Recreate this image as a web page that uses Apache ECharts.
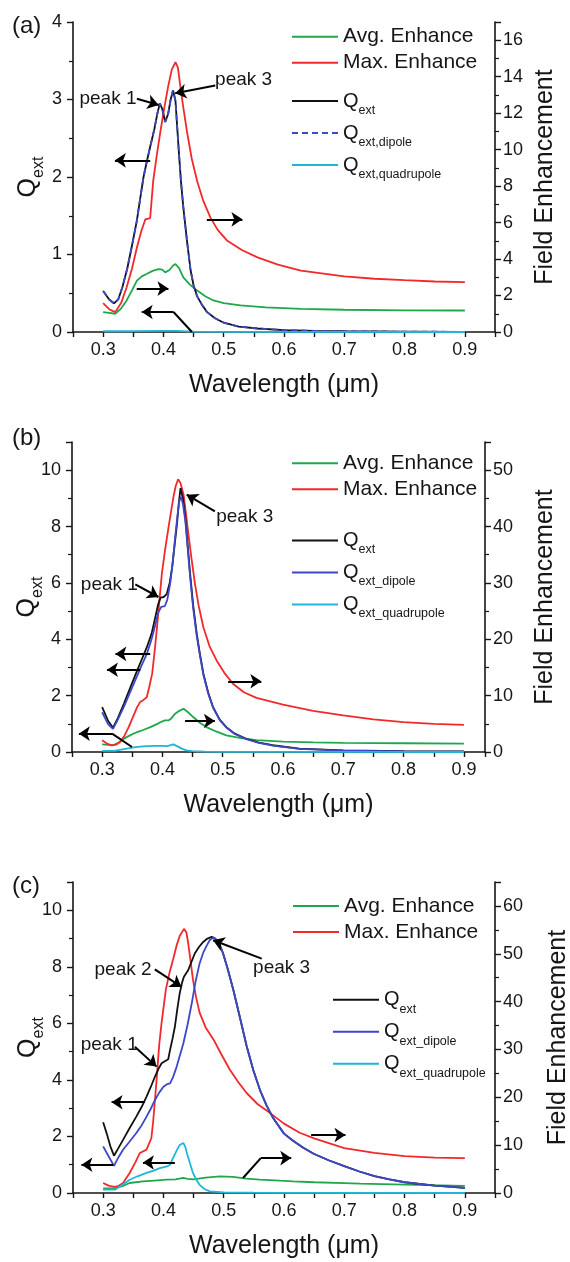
<!DOCTYPE html>
<html>
<head>
<meta charset="utf-8">
<script src="https://cdn.jsdelivr.net/npm/echarts@6/dist/echarts.min.js"></script>
<style>
  html, body { margin: 0; padding: 0; background: #fff; }
  #chart { width: 570px; height: 1262px; }
</style>
</head>
<body>
<div id="chart"></div>
<script>
// wavelength (um) / value pairs
// (a)
const aAvg = [[0.300,1.09],[0.310,1.05],[0.320,1.00],[0.330,1.30],[0.339,1.73],[0.348,2.30],[0.356,2.82],[0.364,3.05],[0.372,3.18],[0.382,3.35],[0.392,3.45],[0.398,3.42],[0.403,3.27],[0.410,3.40],[0.416,3.65],[0.420,3.73],[0.426,3.50],[0.433,3.00],[0.444,2.60],[0.456,2.27],[0.470,1.95],[0.483,1.73],[0.500,1.58],[0.528,1.46],[0.570,1.35],[0.628,1.27],[0.700,1.22],[0.800,1.19],[0.900,1.18]]
const aMax = [[0.300,1.58],[0.310,1.25],[0.320,1.09],[0.330,1.60],[0.339,2.45],[0.348,3.50],[0.356,4.63],[0.363,5.50],[0.370,6.18],[0.378,6.25],[0.383,8.27],[0.389,9.70],[0.395,11.0],[0.402,12.4],[0.408,13.5],[0.414,14.4],[0.420,14.8],[0.424,14.5],[0.428,13.5],[0.433,12.3],[0.439,11.0],[0.447,9.50],[0.456,8.27],[0.466,7.20],[0.478,6.27],[0.490,5.60],[0.506,5.00],[0.530,4.50],[0.556,4.09],[0.590,3.70],[0.628,3.36],[0.700,3.05],[0.750,2.92],[0.800,2.84],[0.850,2.77],[0.900,2.73]]
const aQext = [[0.300,0.53],[0.310,0.42],[0.318,0.37],[0.325,0.42],[0.332,0.58],[0.340,0.82],[0.348,1.12],[0.356,1.44],[0.362,1.75],[0.367,2.00],[0.373,2.22],[0.378,2.39],[0.385,2.62],[0.390,2.82],[0.394,2.95],[0.398,2.88],[0.403,2.71],[0.408,2.82],[0.412,3.00],[0.416,3.12],[0.420,2.98],[0.425,2.39],[0.429,1.95],[0.433,1.61],[0.439,1.18],[0.445,0.80],[0.450,0.60],[0.456,0.46],[0.464,0.35],[0.472,0.26],[0.485,0.18],[0.500,0.12],[0.525,0.07],[0.556,0.045],[0.600,0.025],[0.650,0.015],[0.700,0.010],[0.800,0.005],[0.900,0.002]]
const aDip = [[0.300,0.53],[0.310,0.42],[0.318,0.37],[0.325,0.42],[0.332,0.58],[0.340,0.82],[0.348,1.12],[0.356,1.44],[0.362,1.75],[0.367,2.00],[0.373,2.22],[0.378,2.39],[0.385,2.62],[0.390,2.82],[0.394,2.95],[0.398,2.88],[0.403,2.71],[0.408,2.82],[0.412,3.00],[0.416,3.12],[0.420,2.98],[0.425,2.39],[0.429,1.95],[0.433,1.61],[0.439,1.18],[0.445,0.80],[0.450,0.60],[0.456,0.46],[0.464,0.35],[0.472,0.26],[0.485,0.18],[0.500,0.12],[0.525,0.07],[0.556,0.045],[0.600,0.025],[0.650,0.015],[0.700,0.010],[0.800,0.005],[0.900,0.002]]
const aQuad = [[0.300,0.010],[0.350,0.010],[0.400,0.015],[0.420,0.015],[0.450,0.005],[0.500,0.002],[0.900,0.000]]

// (b)
const bAvg = [[0.300,1.36],[0.310,1.25],[0.318,1.20],[0.326,1.60],[0.336,2.37],[0.347,3.00],[0.358,3.54],[0.368,3.90],[0.380,4.42],[0.390,4.90],[0.399,5.40],[0.404,5.60],[0.410,5.60],[0.415,6.00],[0.421,6.80],[0.428,7.30],[0.435,7.68],[0.442,7.10],[0.451,6.20],[0.462,5.20],[0.473,4.42],[0.490,3.60],[0.506,2.95],[0.530,2.45],[0.556,2.10],[0.600,1.85],[0.650,1.72],[0.700,1.62],[0.800,1.55],[0.900,1.50]]
const bMax = [[0.300,2.07],[0.308,1.50],[0.316,1.18],[0.323,1.30],[0.330,1.77],[0.337,2.90],[0.344,4.40],[0.351,6.20],[0.358,7.96],[0.363,8.85],[0.368,9.20],[0.374,9.70],[0.378,11.5],[0.383,13.9],[0.387,17.8],[0.391,22.1],[0.395,26.9],[0.399,31.6],[0.404,35.6],[0.410,39.8],[0.418,45.1],[0.422,47.2],[0.426,48.4],[0.430,47.7],[0.435,45.7],[0.439,42.3],[0.443,38.7],[0.448,34.5],[0.454,29.8],[0.460,26.0],[0.468,22.1],[0.478,18.8],[0.490,16.2],[0.503,14.0],[0.517,12.1],[0.535,10.6],[0.556,9.60],[0.600,8.40],[0.650,7.30],[0.700,6.50],[0.750,5.80],[0.800,5.30],[0.850,5.00],[0.900,4.80]]
const bQext = [[0.300,1.59],[0.310,1.10],[0.318,0.86],[0.326,1.20],[0.336,1.71],[0.347,2.30],[0.358,2.89],[0.366,3.30],[0.374,3.71],[0.382,4.20],[0.388,4.77],[0.393,5.25],[0.397,5.48],[0.402,5.50],[0.407,5.60],[0.412,6.00],[0.416,6.54],[0.420,7.30],[0.424,8.07],[0.427,8.80],[0.430,9.36],[0.434,9.00],[0.438,8.30],[0.442,7.30],[0.446,6.30],[0.451,5.20],[0.457,4.18],[0.462,3.50],[0.468,2.77],[0.476,2.10],[0.484,1.59],[0.495,1.15],[0.506,0.88],[0.520,0.65],[0.539,0.47],[0.560,0.33],[0.583,0.24],[0.627,0.12],[0.700,0.06],[0.800,0.03],[0.900,0.02]]
const bDip = [[0.300,1.41],[0.310,0.98],[0.318,0.82],[0.326,1.15],[0.336,1.60],[0.347,2.15],[0.358,2.70],[0.366,3.10],[0.374,3.47],[0.382,4.00],[0.388,4.50],[0.393,4.95],[0.398,5.15],[0.404,5.18],[0.408,5.40],[0.413,6.00],[0.417,6.70],[0.421,7.60],[0.425,8.40],[0.428,8.90],[0.431,9.05],[0.434,8.80],[0.438,8.20],[0.442,7.20],[0.446,6.20],[0.451,5.10],[0.457,4.10],[0.462,3.45],[0.468,2.73],[0.476,2.07],[0.484,1.57],[0.495,1.13],[0.506,0.87],[0.520,0.64],[0.539,0.46],[0.560,0.32],[0.583,0.23],[0.627,0.11],[0.700,0.05],[0.800,0.02],[0.900,0.01]]
const bQuad = [[0.300,0.04],[0.320,0.04],[0.341,0.12],[0.355,0.17],[0.368,0.20],[0.385,0.22],[0.400,0.22],[0.408,0.21],[0.418,0.27],[0.425,0.20],[0.432,0.12],[0.440,0.06],[0.450,0.03],[0.470,0.01],[0.500,0.005],[0.600,0.002],[0.900,0.000]]

// (c)
const cAvg = [[0.300,0.95],[0.320,1.00],[0.333,1.50],[0.344,2.09],[0.366,2.43],[0.385,2.60],[0.405,2.78],[0.420,2.85],[0.433,3.14],[0.440,2.95],[0.450,2.85],[0.470,3.20],[0.494,3.47],[0.515,3.35],[0.538,3.00],[0.560,2.80],[0.593,2.57],[0.615,2.43],[0.650,2.25],[0.700,2.05],[0.726,1.95],[0.800,1.75],[0.900,1.50]]
const cMax = [[0.300,2.09],[0.310,1.50],[0.319,1.26],[0.326,1.50],[0.333,2.09],[0.344,4.18],[0.353,6.30],[0.361,8.37],[0.372,9.06],[0.380,11.5],[0.383,15.0],[0.386,19.5],[0.390,25.8],[0.393,31.0],[0.397,35.6],[0.404,42.5],[0.410,46.0],[0.416,48.8],[0.422,51.8],[0.427,53.7],[0.434,55.2],[0.438,54.5],[0.441,52.3],[0.445,48.5],[0.449,44.6],[0.454,41.0],[0.460,37.7],[0.470,34.6],[0.483,32.1],[0.496,29.0],[0.510,25.8],[0.524,23.2],[0.538,20.9],[0.556,18.6],[0.577,16.7],[0.600,14.5],[0.626,12.6],[0.650,11.4],[0.700,9.40],[0.750,8.40],[0.800,7.70],[0.850,7.40],[0.900,7.30]]
const cQext = [[0.300,2.50],[0.306,2.10],[0.312,1.65],[0.318,1.32],[0.325,1.58],[0.333,1.88],[0.344,2.30],[0.355,2.70],[0.364,3.05],[0.372,3.41],[0.379,3.75],[0.386,4.12],[0.392,4.40],[0.397,4.59],[0.403,4.67],[0.408,4.73],[0.411,5.06],[0.415,5.45],[0.419,5.88],[0.423,6.50],[0.427,7.06],[0.431,7.45],[0.434,7.65],[0.441,7.88],[0.446,8.15],[0.452,8.47],[0.459,8.70],[0.466,8.88],[0.473,9.00],[0.480,9.06],[0.486,9.00],[0.493,8.80],[0.499,8.47],[0.507,7.90],[0.516,7.18],[0.527,6.20],[0.538,5.20],[0.549,4.35],[0.560,3.65],[0.571,3.10],[0.582,2.65],[0.600,2.10],[0.615,1.85],[0.632,1.60],[0.650,1.38],[0.675,1.15],[0.700,0.95],[0.725,0.76],[0.750,0.60],[0.775,0.48],[0.800,0.38],[0.850,0.26],[0.900,0.18]]
const cDip = [[0.300,1.65],[0.309,1.30],[0.318,0.96],[0.325,1.25],[0.333,1.53],[0.344,1.82],[0.355,2.12],[0.364,2.40],[0.372,2.70],[0.379,2.98],[0.386,3.29],[0.393,3.55],[0.400,3.76],[0.406,3.85],[0.411,3.88],[0.416,4.10],[0.422,4.47],[0.433,5.29],[0.440,5.95],[0.447,6.71],[0.453,7.45],[0.460,8.12],[0.466,8.50],[0.472,8.76],[0.477,8.95],[0.483,9.04],[0.488,8.95],[0.493,8.80],[0.499,8.47],[0.507,7.90],[0.516,7.18],[0.527,6.20],[0.538,5.20],[0.549,4.35],[0.560,3.65],[0.571,3.10],[0.582,2.65],[0.600,2.10],[0.615,1.85],[0.632,1.60],[0.650,1.38],[0.675,1.15],[0.700,0.95],[0.725,0.76],[0.750,0.60],[0.775,0.48],[0.800,0.38],[0.850,0.26],[0.900,0.18]]
const cQuad = [[0.300,0.12],[0.320,0.12],[0.333,0.30],[0.344,0.47],[0.358,0.60],[0.372,0.71],[0.385,0.80],[0.394,0.88],[0.406,0.94],[0.411,1.00],[0.416,1.24],[0.422,1.50],[0.427,1.70],[0.433,1.77],[0.436,1.65],[0.439,1.41],[0.444,1.05],[0.449,0.71],[0.455,0.45],[0.460,0.29],[0.468,0.14],[0.477,0.06],[0.500,0.02],[0.550,0.01],[0.600,0.005],[0.900,0.000]]

// annotation arrows in (wavelength, Qext) units: x1, y1, x2, y2, arrow head at end
const aArrows = [[0.356,3.01,0.392,2.93,1],[0.486,3.18,0.4195,3.08,1],[0.378,2.215,0.3195,2.215,1],[0.472,1.454,0.531,1.454,1],[0.3557,0.56,0.4083,0.56,1],[0.4473,0,0.4167,0.258,0],[0.4167,0.258,0.364,0.258,1]]
const bArrows = [[0.355,5.95,0.3934,5.50,1],[0.487,8.54,0.4403,9.13,1],[0.3797,3.48,0.322,3.48,1],[0.3632,2.92,0.308,2.92,1],[0.509,2.51,0.564,2.51,1],[0.4375,1.10,0.487,1.10,1],[0.3495,0.177,0.3165,0.65,0],[0.3165,0.65,0.2614,0.65,1]]
const cArrows = [[0.3857,7.91,0.430,7.29,1],[0.3526,5.17,0.3886,4.47,1],[0.563,8.29,0.4824,8.94,1],[0.369,3.21,0.314,3.21,1],[0.3166,1.0,0.264,1.0,1],[0.419,1.08,0.366,1.08,1],[0.645,2.05,0.702,2.05,1],[0.532,0.53,0.5615,1.235,0],[0.5615,1.235,0.612,1.235,1]]
const aTexts = [[0.308,3.01,'peak 1'],[0.533,3.25,'peak 3']]
const bTexts = [[0.312,5.95,'peak 1'],[0.5365,8.33,'peak 3']]
const cTexts = [[0.333,7.91,'peak 2'],[0.310,5.26,'peak 1'],[0.596,7.98,'peak 3']]

const FONT = '"Liberation Sans", Arial, Helvetica, sans-serif'
const INK = '#161616'
const GREEN = '#1fa84a'
const RED = '#f2292b'
const BLACK = '#111111'
const BLUE = '#3c48c8'
const CYAN = '#1fb6d8'

const panels = [
  {
    key: 'a', tag: '(a)', tagTop: 12,
    grid: { left: 73, top: 22, width: 422, height: 310 },
    xMax: 0.95, qMax: 4, qStep: 1, fMax: 17, fStep: 2, fGap: 38,
    dipName: 'ext,dipole', quadName: 'ext,quadrupole', dipDash: true,
    avg: aAvg, max: aMax, qext: aQext, dip: aDip, quad: aQuad,
    arrows: aArrows, texts: aTexts,
    leg1: { left: 291, top: 25.7 }, leg2: { left: 291, top: 91 }
  },
  {
    key: 'b', tag: '(b)', tagTop: 424.5,
    grid: { left: 72, top: 442, width: 413, height: 310 },
    xMax: 0.935, qMax: 11, qStep: 2, fMax: 55, fStep: 10, fGap: 48,
    dipName: 'ext_dipole', quadName: 'ext_quadrupole', dipDash: false,
    avg: bAvg, max: bMax, qext: bQext, dip: bDip, quad: bQuad,
    arrows: bArrows, texts: bTexts,
    leg1: { left: 291, top: 452.3 }, leg2: { left: 291, top: 530.5 }
  },
  {
    key: 'c', tag: '(c)', tagTop: 872,
    grid: { left: 73, top: 882, width: 422, height: 311 },
    xMax: 0.95, qMax: 11, qStep: 2, fMax: 65, fStep: 10, fGap: 51,
    dipName: 'ext_dipole', quadName: 'ext_quadrupole', dipDash: false,
    avg: cAvg, max: cMax, qext: cQext, dip: cDip, quad: cQuad,
    arrows: cArrows, texts: cTexts,
    leg1: { left: 292, top: 895 }, leg2: { left: 332, top: 989.8 }
  }
]

const tenth = v => {
  const k = v * 10
  return Math.abs(k - Math.round(k)) < 1e-6 && v > 0.27 && v < 0.91 ? v.toFixed(1) : ''
}
const axisLineStyle = { color: INK, width: 1.6 }
const labelStyle = { fontSize: 18, fontFamily: FONT, color: INK }
const legendNames = {}

const option = {
  animation: false,
  backgroundColor: '#fff',
  title: [],
  grid: [],
  xAxis: [],
  yAxis: [],
  legend: [],
  series: []
}

panels.forEach((p, i) => {
  option.title.push({
    text: p.tag, left: 12, top: p.tagTop, padding: 0,
    textStyle: { fontSize: 24, fontWeight: 'normal', fontFamily: FONT, color: INK, lineHeight: 28 }
  })
  // fixed plot boxes: don't let the axis names squeeze the grid
  option.grid.push(Object.assign({ containLabel: false, outerBoundsMode: 'none' }, p.grid))
  option.xAxis.push({
    gridIndex: i, type: 'value', min: 0.25, max: p.xMax, interval: 0.05,
    name: 'Wavelength (μm)', nameLocation: 'middle', nameGap: 41,
    nameTextStyle: { fontSize: 25, fontFamily: FONT, color: INK },
    axisLine: { show: true, onZero: false, lineStyle: axisLineStyle },
    axisTick: { show: true, length: 5, lineStyle: { color: INK, width: 1.4 } },
    axisLabel: Object.assign({ margin: 9, formatter: tenth }, labelStyle),
    splitLine: { show: false }
  })
  // left axis: Qext
  option.yAxis.push({
    gridIndex: i, type: 'value', position: 'left', min: 0, max: p.qMax, interval: p.qStep,
    name: '{q|Q}{s|ext}', nameLocation: 'middle', nameRotate: 90, nameGap: 26, nameMoveOverlap: false,
    nameTextStyle: {
      color: INK, fontFamily: FONT,
      rich: {
        q: { fontSize: 25, fontFamily: FONT, color: INK },
        s: { fontSize: 16, fontFamily: FONT, color: INK, padding: [22, 0, 0, 0] }
      }
    },
    axisLine: { show: true, lineStyle: axisLineStyle },
    axisTick: { show: true, length: 6, lineStyle: { color: INK, width: 1.4 } },
    minorTick: { show: true, splitNumber: 2, length: 4, lineStyle: { color: INK, width: 1.2 } },
    axisLabel: Object.assign({ margin: 11, showMaxLabel: p.qMax % p.qStep === 0 }, labelStyle),
    splitLine: { show: false }, minorSplitLine: { show: false }
  })
  // right axis: field enhancement
  option.yAxis.push({
    gridIndex: i, type: 'value', position: 'right', min: 0, max: p.fMax, interval: p.fStep,
    name: 'Field Enhancement', nameLocation: 'middle', nameRotate: 90, nameGap: p.fGap, nameMoveOverlap: false,
    nameTextStyle: { fontSize: 25, fontFamily: FONT, color: INK },
    axisLine: { show: true, lineStyle: axisLineStyle },
    axisTick: { show: true, length: 6, lineStyle: { color: INK, width: 1.4 } },
    minorTick: { show: true, splitNumber: 2, length: 4, lineStyle: { color: INK, width: 1.2 } },
    axisLabel: Object.assign({ margin: 8, showMaxLabel: false }, labelStyle),
    splitLine: { show: false }, minorSplitLine: { show: false }
  })

  const k = p.key
  legendNames[k + '-avg'] = 'Avg. Enhance'
  legendNames[k + '-max'] = 'Max. Enhance'
  legendNames[k + '-qext'] = '{q|Q}{s|ext}'
  legendNames[k + '-dip'] = '{q|Q}{s|' + p.dipName + '}'
  legendNames[k + '-quad'] = '{q|Q}{s|' + p.quadName + '}'

  // legend icons: line only, no symbol
  const iconStyle = { itemStyle: { opacity: 0 }, lineStyle: { opacity: 1 } }
  option.legend.push(Object.assign({
    left: p.leg1.left, top: p.leg1.top, orient: 'vertical', padding: 0,
    itemWidth: 46, itemHeight: 14, itemGap: 4, selectedMode: false,
    data: [k + '-avg', k + '-max'],
    formatter: n => legendNames[n],
    textStyle: { fontSize: 21, fontFamily: FONT, color: INK, lineHeight: 22 }
  }, iconStyle))
  option.legend.push(Object.assign({
    left: p.leg2.left, top: p.leg2.top, orient: 'vertical', padding: 0,
    itemWidth: 46, itemHeight: 14, itemGap: 6, selectedMode: false,
    data: [k + '-qext', k + '-dip', k + '-quad'],
    formatter: n => legendNames[n],
    textStyle: {
      fontFamily: FONT, color: INK,
      rich: {
        q: { fontSize: 20, fontFamily: FONT, color: INK, lineHeight: 22 },
        s: { fontSize: 12.5, fontFamily: FONT, color: INK, padding: [19, 0, 0, 0] }
      }
    }
  }, iconStyle))

  const line = (name, data, color, yi, extra) => Object.assign({
    name, type: 'line', data, xAxisIndex: i, yAxisIndex: 2 * i + yi,
    symbol: 'none', showSymbol: false, smooth: false,
    lineStyle: { color, width: 1.8 }, itemStyle: { color },
    emphasis: { disabled: true }, silent: true
  }, extra || {})

  option.series.push(line(k + '-avg', p.avg, GREEN, 1))
  option.series.push(line(k + '-max', p.max, RED, 1))
  option.series.push(line(k + '-qext', p.qext, BLACK, 0, {
    markLine: {
      silent: true, animation: false, symbolSize: 11,
      lineStyle: { color: '#000', width: 2, type: 'solid' },
      label: { show: false }, emphasis: { disabled: true },
      data: p.arrows.map(a => [
        { coord: [a[0], a[1]], symbol: 'none' },
        { coord: [a[2], a[3]], symbol: a[4] ? 'arrow' : 'none' }
      ])
    },
    markPoint: {
      silent: true, animation: false, symbol: 'circle', symbolSize: 0,
      label: { show: true, position: 'inside', formatter: d => d.name, fontSize: 19, fontFamily: FONT, color: INK },
      data: p.texts.map(t => ({ name: t[2], coord: [t[0], t[1]] }))
    }
  }))
  option.series.push(line(k + '-dip', p.dip, BLUE, 0, p.dipDash ? { lineStyle: { color: BLUE, width: 1.8, type: [6, 4] } } : {}))
  option.series.push(line(k + '-quad', p.quad, CYAN, 0))
})

const chart = echarts.init(document.getElementById('chart'), null, { renderer: 'canvas' })
chart.setOption(option)
</script>
</body>
</html>
